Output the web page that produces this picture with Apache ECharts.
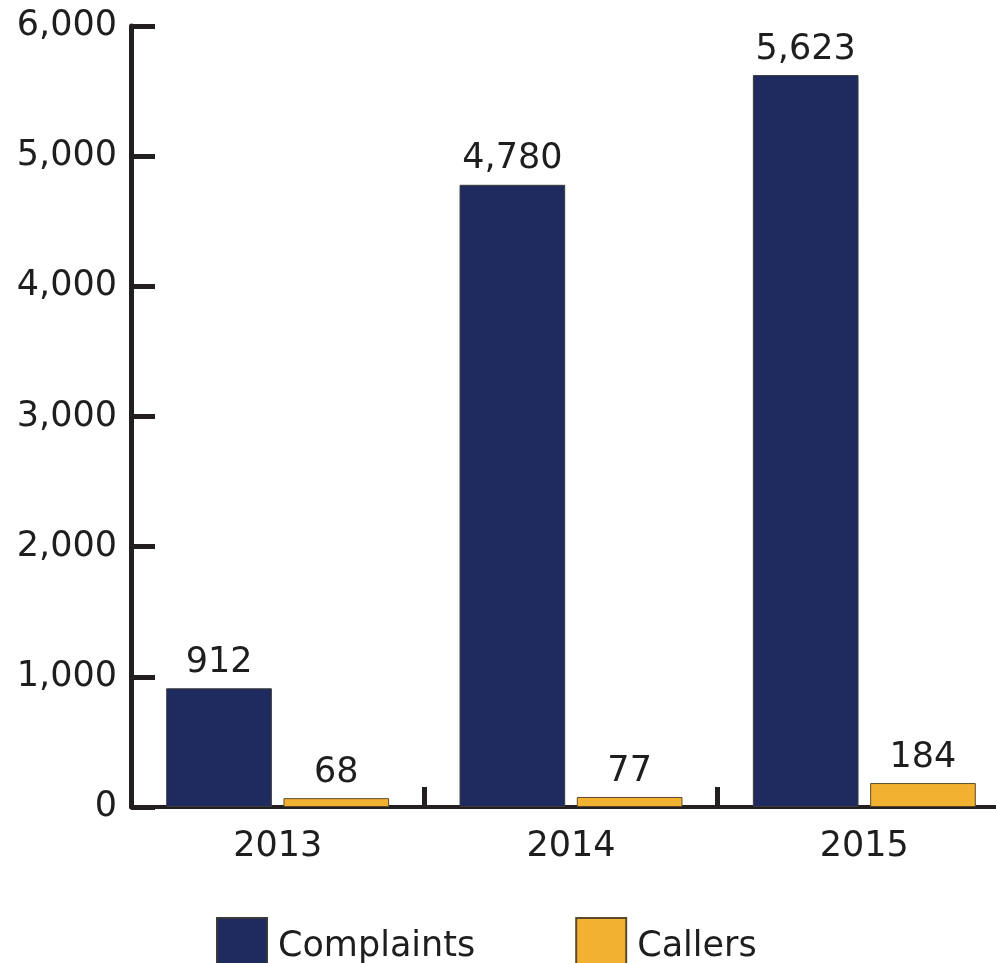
<!DOCTYPE html>
<html>
<head>
<meta charset="utf-8">
<script src="https://cdn.jsdelivr.net/npm/echarts@6/dist/echarts.min.js"></script>
<style>
html,body{margin:0;padding:0;background:#fff;}
#chart{width:996px;height:963px;}
</style>
</head>
<body>
<div id="chart"></div>
<script>
const categories = ['2013', '2014', '2015'];
const complaints = [912, 4780, 5623];
const callers = [68, 77, 184];
const yTicks = [0, 1000, 2000, 3000, 4000, 5000, 6000];

const FONT = '"DejaVu Sans", "Noto Sans", sans-serif';
const TXT = '#1e1e1e';
const fmt = v => Number(v).toLocaleString('en-US');

const chart = echarts.init(document.getElementById('chart'), null, {renderer: 'canvas'});
const labelStyle = {
  show: true, position: 'top', distance: 8,
  fontFamily: FONT, fontSize: 35, color: TXT,
  formatter: p => fmt(p.value)
};
chart.setOption({
  animation: false,
  backgroundColor: '#fff',
  grid: {left: 131, right: -15, top: 26, bottom: 156, containLabel: false, outerBoundsMode: 'none'},
  legend: {
    data: ['Complaints', 'Callers'],
    left: 211, top: 912,
    itemWidth: 50, itemHeight: 58, itemGap: 100,
    icon: 'rect',
    textStyle: {fontFamily: FONT, fontSize: 35, color: TXT, padding: [0, 0, 0, 6]},
    selectedMode: false
  },
  xAxis: {
    type: 'category',
    data: categories,
    axisLine: {lineStyle: {color: '#231f20', width: 4}},
    axisTick: {show: true, inside: true, length: 20, lineStyle: {color: '#231f20', width: 5}},
    axisLabel: {fontFamily: FONT, fontSize: 35, color: TXT, margin: 22}
  },
  yAxis: {
    type: 'value',
    min: yTicks[0], max: yTicks[yTicks.length - 1], interval: 1000,
    axisLine: {show: true, lineStyle: {color: '#231f20', width: 5}},
    axisTick: {show: true, inside: true, length: 24, lineStyle: {color: '#231f20', width: 5}},
    splitLine: {show: false},
    axisLabel: {fontFamily: FONT, fontSize: 35, color: TXT, margin: 14, formatter: v => fmt(v)}
  },
  series: [
    {
      name: 'Complaints', type: 'bar', data: complaints,
      barGap: '11%', barCategoryGap: '24%',
      itemStyle: {color: '#1f2b5e', borderColor: '#3a3a3a', borderWidth: 1},
      label: labelStyle
    },
    {
      name: 'Callers', type: 'bar', data: callers,
      itemStyle: {color: '#f3b131', borderColor: '#5a4a2a', borderWidth: 1},
      label: labelStyle
    }
  ]
});
</script>
</body>
</html>
